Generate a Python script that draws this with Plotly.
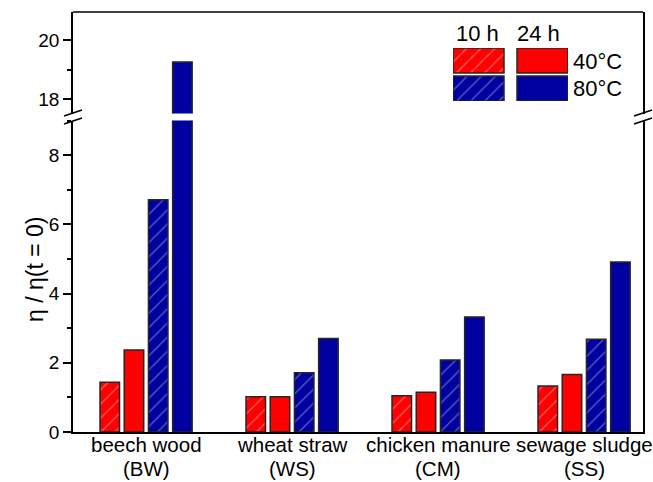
import plotly.graph_objects as go

# Feedstocks on the category axis (name and abbreviation on two lines)
category_names = ["beech wood", "wheat straw", "chicken manure", "sewage sludge"]
category_codes = ["(BW)", "(WS)", "(CM)", "(SS)"]
positions = [1, 2, 3, 4]

# Relative viscosity eta / eta(t = 0)
ratio_40C_10h = [1.44, 1.02, 1.05, 1.33]
ratio_40C_24h = [2.37, 1.02, 1.15, 1.66]
ratio_80C_10h = [6.71, 1.71, 2.08, 2.68]
ratio_80C_24h = [19.26, 2.70, 3.32, 4.91]

RED = "#FF0000"
BLUE = "#0000A0"
EDGE = "#262626"
FONT = "Liberation Sans, Arial, sans-serif"

series = [
    (ratio_40C_10h, RED, True),
    (ratio_40C_24h, RED, False),
    (ratio_80C_10h, BLUE, True),
    (ratio_80C_24h, BLUE, False),
]

W, H = 653, 482
ML, MR, MT, MB = 73, 10, 12, 50
PW, PH = W - ML - MR, H - MT - MB


def px_x(px):
    return (px - ML) / PW


def px_y(py):
    return (H - MB - py) / PH


def marker(color, hatched):
    m = dict(color=color, line=dict(color=EDGE, width=1.5))
    if hatched:
        m["pattern"] = dict(shape="/", size=10, solidity=0.12,
                            fgcolor="rgba(255,255,255,0.75)", bgcolor=color,
                            fillmode="overlay")
    return m


BAR_W = 0.1336
PITCH = 0.1658
FIRST = -0.315

fig = go.Figure()

# Same bars on the lower (0-9) and upper (17.5-21) segments of the broken axis
for yax in ("y", "y2"):
    for i, (vals, color, hatched) in enumerate(series):
        fig.add_trace(go.Bar(
            x=positions, y=vals, width=BAR_W, offset=FIRST + i * PITCH,
            marker=marker(color, hatched), xaxis="x", yaxis=yax,
            showlegend=False, hoverinfo="skip"))

# Legend swatches drawn as bars on a small hidden subplot
legend_cells = [
    (25.5, 28, RED, True), (89.5, 28, RED, False),
    (25.5, 0, BLUE, True), (89.5, 0, BLUE, False),
]
for cx, base, color, hatched in legend_cells:
    fig.add_trace(go.Bar(
        x=[cx], y=[25], base=[base], width=51,
        marker=marker(color, hatched), xaxis="x3", yaxis="y3",
        showlegend=False, hoverinfo="skip"))

axis_common = dict(showline=True, linecolor="black", linewidth=1.5,
                   showgrid=False, zeroline=False, automargin=False)
tick_font = dict(family=FONT, size=19, color="black")

lower_top = px_y(120.5)
upper_bottom = px_y(113.5)

y_ticks = dict(mirror=True, ticks="outside", ticklen=8, tickwidth=1.5,
               tickcolor="black", tick0=0, dtick=2, tickfont=tick_font,
               minor=dict(dtick=1, ticks="outside", ticklen=4, tickwidth=1.5,
                          tickcolor="black", showgrid=False))

fig.update_layout(
    width=W, height=H,
    margin=dict(l=ML, r=MR, t=MT, b=MB, autoexpand=False),
    paper_bgcolor="white", plot_bgcolor="white",
    barmode="overlay",
    font=dict(family=FONT, size=18, color="black"),
    xaxis=dict(domain=[0, 1], range=[0.5, 4.404], anchor="y",
               ticks="", tickvals=positions, showticklabels=False,
               **axis_common),
    yaxis=dict(domain=[0, lower_top], range=[0, 9.0], anchor="x",
               **y_ticks, **axis_common),
    yaxis2=dict(domain=[upper_bottom, 1], range=[17.5, 20.97], anchor="x",
                **y_ticks, **axis_common),
    xaxis3=dict(domain=[px_x(453), px_x(568)], range=[0, 115],
                anchor="y3", visible=False, fixedrange=True, automargin=False),
    yaxis3=dict(domain=[px_y(101), px_y(48)], range=[0, 53],
                anchor="x3", visible=False, fixedrange=True, automargin=False),
)

shapes = [
    # top frame line
    dict(type="line", xref="paper", yref="paper", x0=0, x1=1, y0=1, y1=1,
         line=dict(color="black", width=1.5)),
]
# axis break marks on both sides
for xc in (73, 643):
    for yc in (113, 121):
        shapes.append(dict(
            type="line", xref="paper", yref="paper",
            x0=px_x(xc - 9), y0=px_y(yc + 3), x1=px_x(xc + 9), y1=px_y(yc - 3),
            line=dict(color="black", width=1.5)))
fig.update_layout(shapes=shapes)

annotations = [
    dict(text="η / η(t = 0)", xref="paper", x=px_x(35), y=px_y(270), textangle=-90,
         xanchor="center", yanchor="middle", size=23),
    dict(text="10 h", xref="paper", x=px_x(454), y=px_y(33), xanchor="left", yanchor="middle", size=22),
    dict(text="24 h", xref="paper", x=px_x(515), y=px_y(33), xanchor="left", yanchor="middle", size=22),
    dict(text="40°C", xref="paper", x=px_x(571), y=px_y(61), xanchor="left", yanchor="middle", size=22),
    dict(text="80°C", xref="paper", x=px_x(571), y=px_y(88), xanchor="left", yanchor="middle", size=22),
]
# Category labels below the bar groups
for pos, name, code in zip(positions, category_names, category_codes):
    annotations.append(dict(text=name, xref="x", x=pos, y=px_y(445),
                            xanchor="center", yanchor="middle", size=20.5))
    annotations.append(dict(text=code, xref="x", x=pos, y=px_y(469),
                            xanchor="center", yanchor="middle", size=20.5))
for a in annotations:
    size = a.pop("size")
    a.update(yref="paper", showarrow=False,
             font=dict(family=FONT, size=size, color="black"))
fig.update_layout(annotations=annotations)

fig.write_html("out.html")
